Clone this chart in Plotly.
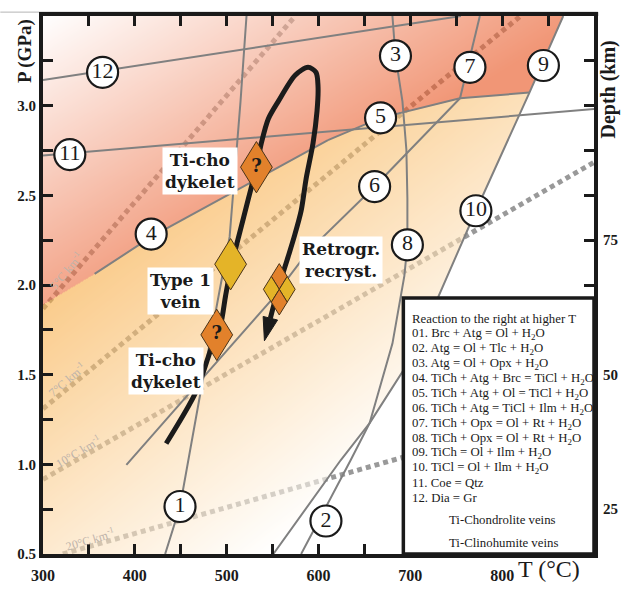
import base64
import struct
import zlib

import numpy as np
import plotly.graph_objects as go

# ---------------------------------------------------------------- axes
T_MIN, T_MAX = 300, 900          # temperature, deg C
P_MIN, P_MAX = 0.5, 3.5          # pressure, GPa
KM_PER_GPA = 100 / 3             # depth scale used on the right axis

t_tick_vals = [300, 350, 400, 450, 500, 550, 600, 650, 700, 750, 800, 850]
t_tick_text = ["300", "", "400", "", "500", "", "600", "", "700", "", "800", ""]
p_tick_vals = [0.5, 0.75, 1.0, 1.25, 1.5, 1.75, 2.0, 2.25, 2.5, 2.75, 3.0, 3.25]
p_tick_text = ["0.5", "", "1.0", "", "1.5", "", "2.0", "", "2.5", "", "3.0", ""]
depth_tick_vals = [25, 50, 75]

# ---------------------------------------------------------------- reactions (T, P)
r1_T = [433.0, 449.2, 469.7, 503.2, 515.1, 521.6]
r1_P = [0.5, 0.765, 1.349, 2.268, 3.024, 3.5]
r3_8_T = [680.5, 683.8, 691.4, 695.7, 696.8, 696.8, 693.5, 680.5, 655.7, 624.3, 550.8]
r3_8_P = [3.5, 3.278, 3.024, 2.754, 2.484, 2.224, 2.051, 1.673, 1.230, 1.024, 0.5]
r4_T = [356.2, 417.8, 610.3]
r4_P = [2.062, 2.268, 2.808]
r5_T = [610.3, 667.6, 754.1]
r5_P = [2.808, 2.932, 3.041]
r6_T = [754.1, 661.1, 588.6, 548.6, 469.7, 390.8]
r6_P = [3.041, 2.549, 2.186, 1.916, 1.457, 0.997]
r7_T = [754.1, 775.7]
r7_P = [3.041, 3.5]
r9_10_T = [866.5, 829.7, 771.4, 702.2, 655.7, 635.1, 581.1]
r9_10_P = [3.5, 3.073, 2.414, 1.603, 1.230, 1.024, 0.5]
r11_T = [300, 900]
r11_P = [2.722, 2.981]
r12_T = [300, 755.1]
r12_P = [3.143, 3.5]
tie_T = [754.1, 829.7]           # invariant point to reaction 9/10
tie_P = [3.041, 3.073]

# where the Ti-chondrolite field meets the left edge
field_edge_T = 300
field_edge_P = 1.889

# reaction number labels
rxn_num = ["1", "2", "3", "4", "5", "6", "7", "8", "9", "10", "11", "12"]
rxn_T = [449.2, 608.1, 683.8, 417.8, 667.6, 661.1, 764.9, 696.8, 844.9, 771.4, 329.2, 364.9]
rxn_P = [0.765, 0.684, 3.278, 2.284, 2.932, 2.549, 3.214, 2.224, 3.224, 2.414, 2.727, 3.186]

# ---------------------------------------------------------------- geotherms
geo_name = ["5", "7", "10", "20"]
geo_T0 = [300, 300, 300, 321.6]
geo_P0 = [1.868, 1.31, 0.916, 0.5]
geo_T1 = [574.6, 820.0, 900, 900]
geo_P1 = [3.5, 3.5, 2.684, 1.342]
geo_label_T = [331.4, 331.4, 342.2, 353.0]

# ---------------------------------------------------------------- P-T path
path_T = [434.1, 466.5, 483.8, 493.5, 498.9, 505.4, 513.0, 523.8, 532.4, 537.8,
          545.4, 556.2, 574.6, 588.6, 597.3, 599.5, 598.4, 594.1, 586.5, 581.1,
          573.5, 567.0, 556.2, 548.6, 541.1]
path_P = [1.116, 1.403, 1.657, 1.781, 1.943, 2.116, 2.268, 2.484, 2.657, 2.792,
          2.927, 3.024, 3.170, 3.214, 3.186, 3.105, 2.970, 2.792, 2.592, 2.414,
          2.268, 2.159, 1.981, 1.835, 1.689]

# ---------------------------------------------------------------- samples
sample_kind = ["Ti-cho", "Type 1", "Ti-cho", "Retrogr"]
sample_T = [532.4, 504.3, 489.2, 557.3]
sample_P = [2.657, 2.116, 1.722, 1.976]
sample_text = ["Ti-cho<br>dykelet", "Type 1<br>vein", "Ti-cho<br>dykelet", "Retrogr.<br>recryst."]
sample_text_T = [470.8, 449.2, 434.1, 624.3]
sample_text_P = [2.635, 1.965, 1.522, 2.138]

legend_lines = [
    "Reaction to the right at higher T",
    "01. Brc + Atg = Ol + H<sub>2</sub>O",
    "02. Atg = Ol + Tlc + H<sub>2</sub>O",
    "03. Atg = Ol + Opx + H<sub>2</sub>O",
    "04. TiCh + Atg + Brc = TiCl + H<sub>2</sub>O",
    "05. TiCh + Atg + Ol = TiCl + H<sub>2</sub>O",
    "06. TiCh + Atg = TiCl + Ilm + H<sub>2</sub>O",
    "07. TiCh + Opx = Ol + Rt + H<sub>2</sub>O",
    "08. TiCh + Opx = Ol + Rt + H<sub>2</sub>O",
    "09. TiCh = Ol + Ilm + H<sub>2</sub>O",
    "10. TiCl = Ol + Ilm + H<sub>2</sub>O",
    "11. Coe = Qtz",
    "12. Dia = Gr",
]
vein_lines = ["Ti-Chondrolite veins", "Ti-Clinohumite veins"]

# ---------------------------------------------------------------- styling
W, H = 630, 596
M_L, M_R, M_T, M_B = 43, 32, 12, 29
PLOT_W = W - M_L - M_R
PLOT_H = H - M_T - M_B
TPX = (T_MAX - T_MIN) / PLOT_W   # deg C per pixel
PPX = (P_MAX - P_MIN) / PLOT_H   # GPa per pixel

SERIF = "Liberation Serif"
SERIF_WIDE = "DejaVu Serif"
INK = "#1a1a1a"
LINE_GREY = "#808080"
ORANGE = "#E2812B"
YELLOW = "#E4B428"
SALMON = np.array([241, 150, 118])
PEACH = np.array([250, 203, 138])
SHADE_ALPHA = 0.6


def inside(x, y, px, py):
    """Even-odd point-in-polygon test on arrays."""
    res = np.zeros(x.shape, dtype=bool)
    n = len(px)
    j = n - 1
    for i in range(n):
        xi, yi, xj, yj = px[i], py[i], px[j], py[j]
        if yi != yj:
            cross = ((yi > y) != (yj > y)) & (x < (xj - xi) * (y - yi) / (yj - yi) + xi)
            res ^= cross
        j = i
    return res


def png_uri(rgba):
    h, w, _ = rgba.shape
    raw = b"".join(b"\x00" + rgba[r].tobytes() for r in range(h))

    def chunk(tag, data):
        body = tag + data
        return struct.pack(">I", len(data)) + body + struct.pack(">I", zlib.crc32(body) & 0xFFFFFFFF)

    png = (b"\x89PNG\r\n\x1a\n"
           + chunk(b"IHDR", struct.pack(">IIBBBBB", w, h, 8, 6, 0, 0, 0))
           + chunk(b"IDAT", zlib.compress(raw, 9))
           + chunk(b"IEND", b""))
    return "data:image/png;base64," + base64.b64encode(png).decode()


# ---------------------------------------------------------------- stability-field shading
ti_chon_T = [T_MIN, field_edge_T] + r4_T + r5_T[1:] + [tie_T[1], r9_10_T[0]]
ti_chon_P = [P_MAX, field_edge_P] + r4_P + r5_P[1:] + [tie_P[1], r9_10_P[0]]
i_cross = r9_10_T.index(655.7)
j_cross = r3_8_T.index(655.7)
ti_cl_T = [field_edge_T] + r4_T + r5_T[1:] + [tie_T[1]] + r9_10_T[2:i_cross + 1] + r3_8_T[j_cross + 1:] + [T_MIN]
ti_cl_P = [field_edge_P] + r4_P + r5_P[1:] + [tie_P[1]] + r9_10_P[2:i_cross + 1] + r3_8_P[j_cross + 1:] + [P_MIN]

cols = (np.arange(PLOT_W) + 0.5) / PLOT_W
rows = (np.arange(PLOT_H) + 0.5) / PLOT_H
U, V = np.meshgrid(cols, rows)
TT = T_MIN + U * (T_MAX - T_MIN)
PP = P_MAX - V * (P_MAX - P_MIN)

rgba = np.zeros((PLOT_H, PLOT_W, 4), dtype=float)
in_ch = inside(TT, PP, ti_chon_T, ti_chon_P)
in_cl = inside(TT, PP, ti_cl_T, ti_cl_P) & ~in_ch

t_ch = np.clip(U + 1.6 * V, 0, 1)[..., None]
s_cl = 0.8 * U * PLOT_W + (V * PLOT_H - 288)
f_cl = np.clip(1 - s_cl / 450, 0, 1)[..., None]

col_ch = 255 - t_ch * (255 - SALMON) / SHADE_ALPHA
col_cl = 255 - f_cl * (255 - PEACH) / SHADE_ALPHA
rgb = np.where(in_ch[..., None], col_ch, np.where(in_cl[..., None], col_cl, 255))
rgba[..., :3] = rgb
rgba[..., 3] = np.where(in_ch | in_cl, SHADE_ALPHA * 255, 0)
shade_uri = png_uri(np.clip(np.round(rgba), 0, 255).astype(np.uint8))

# ---------------------------------------------------------------- figure
fig = go.Figure()

# reaction curves
for xs, ys in [(r1_T, r1_P), (r3_8_T, r3_8_P), (r4_T, r4_P), (r5_T, r5_P), (r6_T, r6_P),
               (r7_T, r7_P), (r9_10_T, r9_10_P), (r11_T, r11_P), (r12_T, r12_P),
               (tie_T, tie_P)]:
    fig.add_trace(go.Scatter(x=xs, y=ys, mode="lines", line=dict(color=LINE_GREY, width=2),
                             hoverinfo="skip", showlegend=False))

# P-T path with arrowhead
tip = np.array([path_T[-1] / TPX, path_P[-1] / PPX])
prev = np.array([path_T[-2] / TPX, path_P[-2] / PPX])
d = (tip - prev) / np.linalg.norm(tip - prev)
HEAD_LEN, HEAD_HALF = 24, 7.5
base = tip - HEAD_LEN * d
perp = np.array([-d[1], d[0]])
c1, c2 = base + HEAD_HALF * perp, base - HEAD_HALF * perp
fig.add_trace(go.Scatter(x=path_T[:-1] + [base[0] * TPX], y=path_P[:-1] + [base[1] * PPX],
                         mode="lines", line=dict(color="#1b1b1b", width=5, shape="spline", smoothing=0.8),
                         hoverinfo="skip", showlegend=False))
fig.add_trace(go.Scatter(x=[tip[0] * TPX, c1[0] * TPX, c2[0] * TPX, tip[0] * TPX],
                         y=[tip[1] * PPX, c1[1] * PPX, c2[1] * PPX, tip[1] * PPX],
                         mode="lines", fill="toself", fillcolor="#1b1b1b",
                         line=dict(color="#1b1b1b", width=1), hoverinfo="skip", showlegend=False))


def diamond(tc, pc, hw, hh, color):
    xs = [tc, tc + hw * TPX, tc, tc - hw * TPX, tc]
    ys = [pc + hh * PPX, pc, pc - hh * PPX, pc, pc + hh * PPX]
    fig.add_trace(go.Scatter(x=xs, y=ys, mode="lines", fill="toself", fillcolor=color,
                             line=dict(color="#4a3318", width=1), hoverinfo="skip", showlegend=False))


DIA_HW, DIA_HH = 16, 26.5
for kind, tc, pc in zip(sample_kind, sample_T, sample_P):
    if kind == "Ti-cho":
        diamond(tc, pc, DIA_HW, DIA_HH, ORANGE)
    elif kind == "Type 1":
        diamond(tc, pc, DIA_HW, DIA_HH, YELLOW)
    else:
        hw, hh = DIA_HW / 2, DIA_HH / 2
        diamond(tc, pc + hh * PPX, hw, hh, ORANGE)
        diamond(tc - hw * TPX, pc, hw, hh, YELLOW)
        diamond(tc + hw * TPX, pc, hw, hh, YELLOW)
        diamond(tc, pc - hh * PPX, hw, hh, ORANGE)

q_T = [t for k, t in zip(sample_kind, sample_T) if k == "Ti-cho"]
q_P = [p for k, p in zip(sample_kind, sample_P) if k == "Ti-cho"]
fig.add_trace(go.Scatter(x=q_T, y=q_P, mode="text", text=["?"] * len(q_T),
                         textfont=dict(family=SERIF_WIDE, size=18, color=INK, weight="bold"),
                         hoverinfo="skip", showlegend=False))

# reaction number circles
fig.add_trace(go.Scatter(x=rxn_T, y=rxn_P, mode="markers+text", text=rxn_num,
                         textposition="middle center",
                         marker=dict(size=31, color="white", line=dict(color=INK, width=2.2)),
                         textfont=dict(family=SERIF, size=22, color=INK),
                         hoverinfo="skip", showlegend=False))

# depth axis carrier
fig.add_trace(go.Scatter(x=[None], y=[None], yaxis="y2", showlegend=False, hoverinfo="skip"))

# geotherms (below the shading so they pick up its tint)
shapes = []
for t0, p0, t1, p1 in zip(geo_T0, geo_P0, geo_T1, geo_P1):
    shapes.append(dict(type="line", xref="x", yref="y", x0=t0, y0=p0, x1=t1, y1=p1, layer="below",
                       line=dict(color="#999999", width=5, dash="5px,4px")))

# reaction table box
box_top_P = 1.927
box_left_T = 692.4
shapes.append(dict(type="rect", xref="x", yref="y", x0=box_left_T, x1=T_MAX, y0=P_MIN, y1=box_top_P,
                   layer="above", fillcolor="white", line=dict(color=INK, width=3.5)))

# thin frame line along the top of the figure
frame_y = 1 + 4 / PLOT_H
frame_x = 1 + 4 / PLOT_W
shapes.append(dict(type="path", xref="paper", yref="paper", layer="below",
                   path=f"M {-M_L / PLOT_W},{frame_y} L {frame_x},{frame_y} L {frame_x},1",
                   line=dict(color="#b4b4b4", width=1)))

annotations = []
for name, t0, p0, t1, p1, tl in zip(geo_name, geo_T0, geo_P0, geo_T1, geo_P1, geo_label_T):
    slope = (p1 - p0) / (t1 - t0)
    ang = np.degrees(np.arctan(slope * TPX / PPX))
    pl = p0 + slope * (tl - t0)
    annotations.append(dict(x=tl, y=pl, xref="x", yref="y", showarrow=False,
                            text=f"{name}°C km<sup>-1</sup>", textangle=-ang,
                            xanchor="center", yanchor="middle",
                            xshift=-7 * np.sin(np.radians(ang)), yshift=7 * np.cos(np.radians(ang)),
                            font=dict(family=SERIF, size=12, color="#bdb3aa")))

for txt, tl, pl in zip(sample_text, sample_text_T, sample_text_P):
    annotations.append(dict(x=tl, y=pl, xref="x", yref="y", showarrow=False, text=txt,
                            xanchor="center", yanchor="middle", bgcolor="white", borderpad=2,
                            font=dict(family=SERIF_WIDE, size=17, color=INK, weight="bold")))

LEG_T = 700
LEG_P0 = 1.810
LEG_STEP = 15.4 * PPX
LEG_SIZE = 12.8
for i, line in enumerate(legend_lines):
    annotations.append(dict(x=LEG_T, y=LEG_P0 - i * LEG_STEP, xref="x", yref="y", xanchor="left",
                            yanchor="middle", showarrow=False, text=line,
                            font=dict(family=SERIF, size=LEG_SIZE, color=INK)))
for i, line in enumerate(vein_lines):
    annotations.append(dict(x=LEG_T + 37 * TPX,
                            y=LEG_P0 - (len(legend_lines) - 1) * LEG_STEP - (22 + 24.5 * i) * PPX,
                            xref="x", yref="y", xanchor="left", yanchor="middle", showarrow=False,
                            text=line, font=dict(family=SERIF, size=LEG_SIZE, color=INK)))

annotations += [
    dict(x=-18 / PLOT_W, y=(PLOT_H - 36) / PLOT_H, xref="paper", yref="paper", showarrow=False,
         xanchor="center", yanchor="middle",
         text="P (GPa)", textangle=-90, font=dict(family=SERIF, size=19, color=INK, weight="bold")),
    dict(x=1 + 15 / PLOT_W, y=(PLOT_H - 76) / PLOT_H, xref="paper", yref="paper", showarrow=False,
         xanchor="center", yanchor="middle",
         text="Depth (km)", textangle=-90, font=dict(family=SERIF, size=20, color=INK, weight="bold")),
    dict(x=(553 - M_L) / PLOT_W, y=-15 / PLOT_H, xref="paper", yref="paper", showarrow=False,
         xanchor="center", yanchor="middle",
         text="T (°C)", font=dict(family=SERIF, size=24, color=INK)),
]

axis_common = dict(showgrid=False, zeroline=False, showline=True, linecolor=INK, linewidth=4,
                   mirror="ticks", ticks="inside", ticklen=10, tickwidth=3, tickcolor=INK)

fig.update_layout(
    width=W, height=H,
    margin=dict(l=M_L, r=M_R, t=M_T, b=M_B, pad=0),
    paper_bgcolor="white", plot_bgcolor="white",
    xaxis=dict(range=[T_MIN, T_MAX], tickvals=t_tick_vals, ticktext=t_tick_text,
               ticklabelstandoff=4,
               tickfont=dict(family=SERIF, size=16, color=INK, weight="bold"), **axis_common),
    yaxis=dict(range=[P_MIN, P_MAX], tickvals=p_tick_vals, ticktext=p_tick_text,
               tickfont=dict(family=SERIF, size=15, color=INK, weight="bold"), **axis_common),
    yaxis2=dict(range=[P_MIN * KM_PER_GPA, P_MAX * KM_PER_GPA], overlaying="y", side="right",
                tickvals=depth_tick_vals, showgrid=False, zeroline=False, showline=False, ticks="",
                ticklabelstandoff=8,
                tickfont=dict(family=SERIF, size=15, color=INK, weight="bold")),
    images=[dict(source=shade_uri, xref="x", yref="y", x=T_MIN, y=P_MAX, sizex=T_MAX - T_MIN,
                 sizey=P_MAX - P_MIN, xanchor="left", yanchor="top", sizing="stretch", layer="below")],
    shapes=shapes,
    annotations=annotations,
    showlegend=False,
)

fig.write_html("out.html")
